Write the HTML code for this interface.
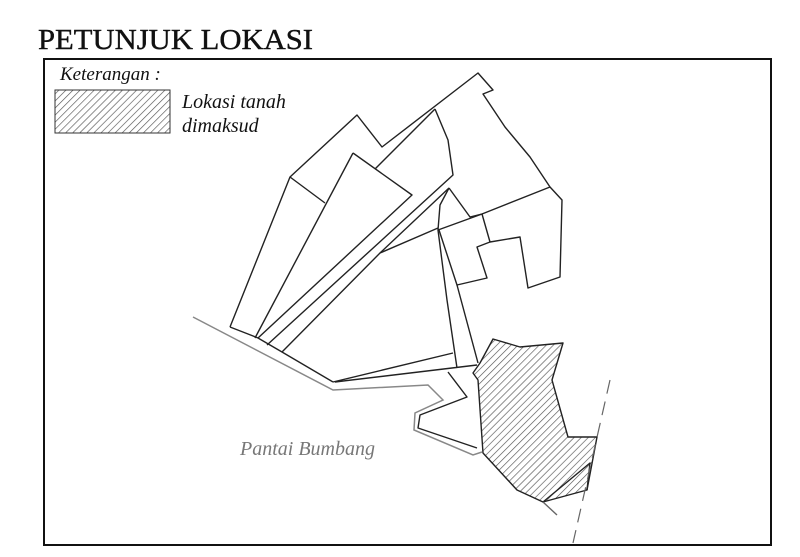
<!DOCTYPE html>
<html><head><meta charset="utf-8"><style>
html,body{margin:0;padding:0;background:#fff;}
svg{display:block}
</style></head><body>
<svg width="800" height="557" viewBox="0 0 800 557" xmlns="http://www.w3.org/2000/svg">
<defs>
<pattern id="h" patternUnits="userSpaceOnUse" width="5" height="5" patternTransform="rotate(45)">
<rect width="5" height="5" fill="#fff"/>
<line x1="0" y1="0" x2="0" y2="5" stroke="#555" stroke-width="1.3"/>
</pattern>
</defs>
<rect width="800" height="557" fill="#fff"/>
<text x="38" y="49" font-family="Liberation Serif, serif" font-size="29" fill="#111" stroke="#111" stroke-width="0.4" textLength="275" lengthAdjust="spacingAndGlyphs">PETUNJUK LOKASI</text>
<rect x="44" y="59" width="727" height="486" fill="none" stroke="#111" stroke-width="2"/>
<text x="60" y="80" font-family="Liberation Serif, serif" font-style="italic" font-size="19" fill="#111">Keterangan :</text>
<rect x="55" y="90" width="115" height="43" fill="url(#h)" stroke="#333" stroke-width="1"/>
<text x="182" y="108" font-family="Liberation Serif, serif" font-style="italic" font-size="20" fill="#111">Lokasi tanah</text>
<text x="182" y="132" font-family="Liberation Serif, serif" font-style="italic" font-size="20" fill="#111">dimaksud</text>
<text x="240" y="455" font-family="Liberation Serif, serif" font-style="italic" font-size="20" fill="#777">Pantai Bumbang</text>

<g fill="none" stroke="#888" stroke-width="1.5">
<polyline points="193,317 333,390 428,385 443,400 415,413 414,430 473,455 482,452"/>
</g>
<g fill="none" stroke="#222" stroke-width="1.4" stroke-linejoin="round">
<polyline points="230,327 290,177 357,115 382,147 478,73 493,90 483,94 505,127 530,157 550,187 562,200 560,277 528,288 520,237 490,242 477,247 487,278 457,285 439,230"/>
<polyline points="230,327 248,334 258,338 270,345 282,352 333,382"/>
<polyline points="290,177 325,203"/>
<polyline points="353,153 255,338"/>
<polyline points="353,153 412,195 258,338"/>
<polyline points="435,109 375,169"/>
<polyline points="435,109 448,140 453,175 267,345"/>
<polyline points="449,188 380,253 282,352"/>
<polyline points="438,228 380,253"/>
<polyline points="449,188 440,205 438,230 447,300 457,368"/>
<polyline points="449,188 470,217 482,214 490,242"/>
<polyline points="438,230 482,214 550,187"/>
<polyline points="457,285 478,363"/>
<polyline points="333,382 453,353"/>
<polyline points="335,382 477,365"/>
<polyline points="448,372 467,397 420,415 418,428 477,448"/>
<polygon points="493,339 520,347 563,343 552,380 568,437 597,437 587,490 543,502 517,490 483,453 478,380 473,373 480,363" fill="url(#h)"/>
<polyline points="543,502 590,463 587,490"/>
<polyline points="543,502 557,515" stroke="#666"/>
</g>
<line x1="610" y1="380" x2="573" y2="543" stroke="#666" stroke-width="1.2" stroke-dasharray="14,8"/>
</svg>
</body></html>
